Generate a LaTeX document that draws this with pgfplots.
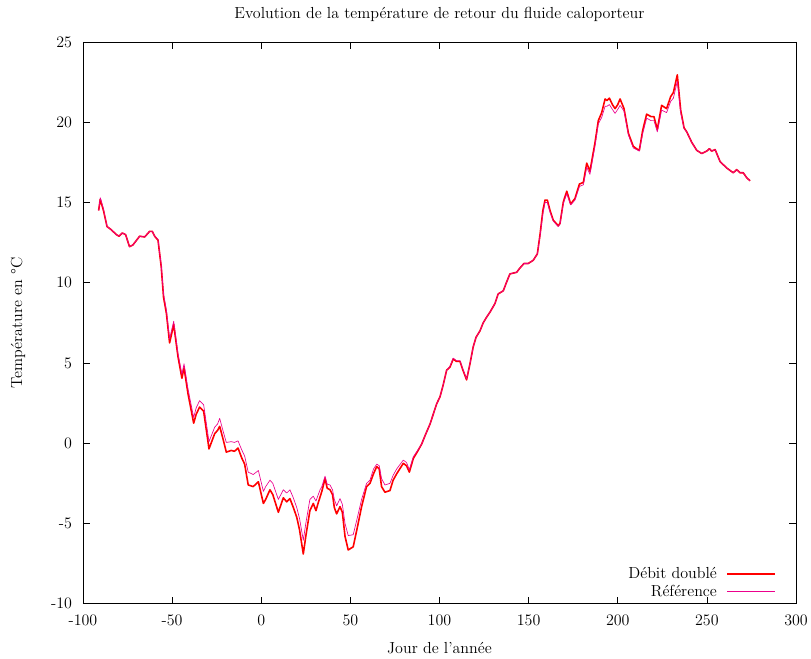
\documentclass[border=0pt,12pt]{standalone}
\usepackage{pgfplots}
\pgfplotsset{compat=1.18}
\begin{document}
\begin{tikzpicture}
\begin{axis}[name=ax,
  scale only axis, width=535pt, height=421.5pt,
  xmin=-100, xmax=300, ymin=-10, ymax=25,
  xtick={-100,-50,...,300}, ytick={-10,-5,...,25},
  tick align=inside, major tick length=5pt,
  tick style={black, line width=0.4pt},
  axis line style={black, line width=0.5pt},
  /pgf/number format/assume math mode=true,
  xticklabel style={yshift=-4pt},
  yticklabel style={xshift=-4pt},
  xlabel={Jour de l'année},
  xlabel style={at={(axis description cs:0.5,-0.0783)}, anchor=center},
  legend style={draw=none, fill=none, at={(axis cs:288.8,-9.85)}, anchor=south east, row sep=-1pt, inner sep=0pt,
    /tikz/every odd column/.append style={column sep=5pt}},
  legend cell align=right, legend plot pos=right,
  legend image code/.code={\draw[#1] (0pt,0pt) -- (36pt,0pt);},
]
\addplot[red, line width=1.2pt, line join=round] coordinates {
(-91.2,14.5) (-90.3,15.2) (-88.5,14.5) (-86.5,13.5) (-84.1,13.3) (-81.3,13.0) (-79.8,12.9) (-78.0,13.1) (-76.1,13.0) (-73.9,12.25) (-72.0,12.35) (-68.2,12.9) (-65.4,12.85) (-62.6,13.2) (-61.1,13.2) (-59.8,12.9) (-57.9,12.65) (-56.1,11.0) (-54.8,9.1) (-53.2,8.1) (-51.4,6.25) (-49.1,7.4) (-46.7,5.4) (-44.5,4.05) (-43.3,4.7) (-41.1,3.1) (-37.9,1.25) (-36.5,1.8) (-34.6,2.25) (-32.3,2.0) (-29.3,-0.35) (-26.1,0.6) (-24.5,0.8) (-23.3,1.05) (-21.5,0.3) (-19.6,-0.55) (-16.8,-0.45) (-15,-0.5) (-13.0,-0.3) (-11,-0.9) (-9.3,-1.3) (-7.3,-2.6) (-4.5,-2.7) (-1.6,-2.4) (1.2,-3.75) (2.5,-3.5) (4.9,-2.9) (6.5,-3.2) (9.6,-4.3) (12.4,-3.4) (14.3,-3.65) (16.1,-3.45) (18,-4.0) (19.9,-4.6) (21.5,-5.4) (23.6,-6.9) (25,-5.8) (27.3,-4.2) (29.2,-3.75) (30.7,-4.2) (32,-3.7) (33.0,-3.35) (34,-3.0) (35.8,-2.2) (37,-2.8) (38.6,-2.9) (40,-3.2) (41,-4.0) (42.3,-4.4) (44.2,-3.95) (45.5,-4.3) (47,-5.8) (48.8,-6.65) (51.6,-6.45) (54,-5.2) (56.3,-3.95) (59.1,-2.7) (61.0,-2.5) (63,-1.9) (64.8,-1.45) (66.2,-1.6) (67.5,-2.7) (69.4,-3.05) (72.2,-2.95) (74,-2.3) (76.0,-1.9) (79.7,-1.25) (81.5,-1.4) (83.1,-1.8) (85.3,-0.95) (88,-0.45) (90.0,-0.05) (92,0.5) (94.7,1.2) (98.4,2.45) (100.3,2.9) (102,3.6) (104.0,4.55) (105.9,4.75) (107.7,5.25) (109.5,5.1) (111.5,5.1) (113,4.6) (115.2,3.95) (117.1,4.95) (118.9,6.0) (120.5,6.6) (122.7,7.0) (124.5,7.5) (126.4,7.85) (128.5,8.2) (131.1,8.7) (132.9,9.3) (135.8,9.5) (137.5,10.0) (139.5,10.55) (143.3,10.65) (145,10.9) (147.4,11.2) (149.8,11.2) (152.6,11.4) (154.9,11.8) (156.4,13.0) (158,14.5) (159.2,15.15) (160.5,15.15) (162,14.5) (163.8,13.9) (166.6,13.55) (167.6,13.7) (169.5,15.05) (171.4,15.7) (173.6,14.9) (176.0,15.25) (178.5,16.15) (180.7,16.25) (182.6,17.45) (184.4,16.95) (187.2,18.7) (189.1,20.1) (191,20.6) (192.9,21.45) (194,21.35) (195.3,21.5) (197,21.1) (198.5,20.85) (200,21.1) (201.3,21.45) (203.5,20.85) (206.0,19.3) (208.7,18.5) (210.5,18.35) (212.1,18.25) (214.0,19.5) (216.2,20.5) (218.7,20.35) (220.3,20.35) (222.2,19.55) (224.6,21.05) (227.4,20.85) (229.7,21.6) (231.2,21.85) (233.4,22.95) (235.3,20.75) (237.2,19.65) (238.7,19.4) (241.5,18.75) (244.3,18.25) (247.1,18.05) (249.9,18.2) (251.4,18.35) (252.7,18.2) (254.6,18.3) (257.4,17.55) (261.1,17.15) (264.8,16.85) (266.7,17.05) (268.6,16.85) (270.4,16.85) (272.3,16.55) (274.2,16.35)
};
\addlegendentry{Débit doublé}
\addplot[magenta, line width=0.5pt, line join=round] coordinates {
(-91.2,14.5) (-90.3,15.3) (-88.5,14.6) (-86.5,13.5) (-84.1,13.3) (-81.3,13.0) (-79.8,12.9) (-78.0,13.1) (-76.1,13.0) (-73.9,12.25) (-72.0,12.35) (-68.2,12.9) (-65.4,12.85) (-62.6,13.2) (-61.1,13.2) (-59.8,12.9) (-57.9,12.7) (-56.1,11.1) (-54.8,9.3) (-53.2,8.3) (-51.4,6.5) (-49.1,7.6) (-46.7,5.6) (-44.5,4.3) (-43.3,4.95) (-41.1,3.4) (-37.9,1.6) (-36.5,2.2) (-34.6,2.65) (-32.3,2.4) (-29.3,0.1) (-26.1,1.0) (-24.5,1.2) (-23.3,1.55) (-21.5,0.8) (-19.6,0.05) (-16.8,0.1) (-15,0.05) (-13.0,0.15) (-11,-0.4) (-9.3,-0.8) (-7.3,-1.8) (-4.5,-1.95) (-1.6,-1.7) (1.2,-3.0) (2.5,-2.7) (4.9,-2.3) (6.5,-2.5) (9.6,-3.5) (12.4,-2.9) (14.3,-3.1) (16.1,-2.9) (18,-3.4) (19.9,-4.0) (21.5,-4.7) (23.6,-6.05) (25,-5.0) (27.3,-3.5) (29.2,-3.3) (30.7,-3.6) (32,-3.2) (33.0,-2.9) (34,-2.7) (35.8,-2.05) (37,-2.55) (38.6,-2.6) (40,-2.9) (41,-3.5) (42.3,-3.9) (44.2,-3.45) (45.5,-3.8) (47,-5.0) (48.8,-5.75) (51.6,-5.7) (54,-4.6) (56.3,-3.5) (59.1,-2.5) (61.0,-2.3) (63,-1.6) (64.8,-1.3) (66.2,-1.4) (67.5,-2.2) (69.4,-2.6) (72.2,-2.5) (74,-2.0) (76.0,-1.6) (79.7,-1.05) (81.5,-1.2) (83.1,-1.65) (85.3,-0.85) (88,-0.4) (90.0,-0.05) (92,0.5) (94.7,1.2) (98.4,2.45) (100.3,2.9) (102,3.6) (104.0,4.55) (105.9,4.8) (107.7,5.3) (109.5,5.15) (111.5,5.15) (113,4.65) (115.2,4.0) (117.1,4.95) (118.9,6.0) (120.5,6.6) (122.7,7.0) (124.5,7.5) (126.4,7.85) (128.5,8.2) (131.1,8.7) (132.9,9.3) (135.8,9.5) (137.5,10.0) (139.5,10.55) (143.3,10.65) (145,10.9) (147.4,11.2) (149.8,11.2) (152.6,11.4) (154.9,11.8) (156.4,12.9) (158,14.3) (159.2,15.0) (160.5,15.0) (162,14.4) (163.8,13.85) (166.6,13.5) (167.6,13.65) (169.5,14.95) (171.4,15.55) (173.6,14.85) (176.0,15.15) (178.5,16.0) (180.7,16.1) (182.6,17.2) (184.4,16.75) (187.2,18.5) (189.1,19.9) (191,20.3) (192.9,21.0) (194,21.0) (195.3,21.1) (197,20.8) (198.5,20.55) (200,20.8) (201.3,21.05) (203.5,20.7) (206.0,19.2) (208.7,18.4) (210.5,18.3) (212.1,18.2) (214.0,19.3) (216.2,20.25) (218.7,20.1) (220.3,20.1) (222.2,19.4) (224.6,20.75) (227.4,20.6) (229.7,21.3) (231.2,21.5) (233.4,22.55) (235.3,20.6) (237.2,19.6) (238.7,19.4) (241.5,18.75) (244.3,18.25) (247.1,18.05) (249.9,18.2) (251.4,18.35) (252.7,18.2) (254.6,18.3) (257.4,17.55) (261.1,17.15) (264.8,16.85) (266.7,17.05) (268.6,16.85) (270.4,16.85) (272.3,16.55) (274.2,16.35)
};
\addlegendentry{Référence}
\end{axis}
\node[rotate=90, anchor=center] at ([xshift=-48.75pt]ax.west) {Température en °C};
\node[anchor=center] at ([yshift=21pt]ax.north) {Evolution de la température de retour du fluide caloporteur};
\pgfresetboundingbox
\path[use as bounding box] ([xshift=-62.25pt,yshift=-41.25pt]ax.south west) rectangle ([xshift=11.25pt,yshift=31.5pt]ax.north east);
\end{tikzpicture}
\end{document}
